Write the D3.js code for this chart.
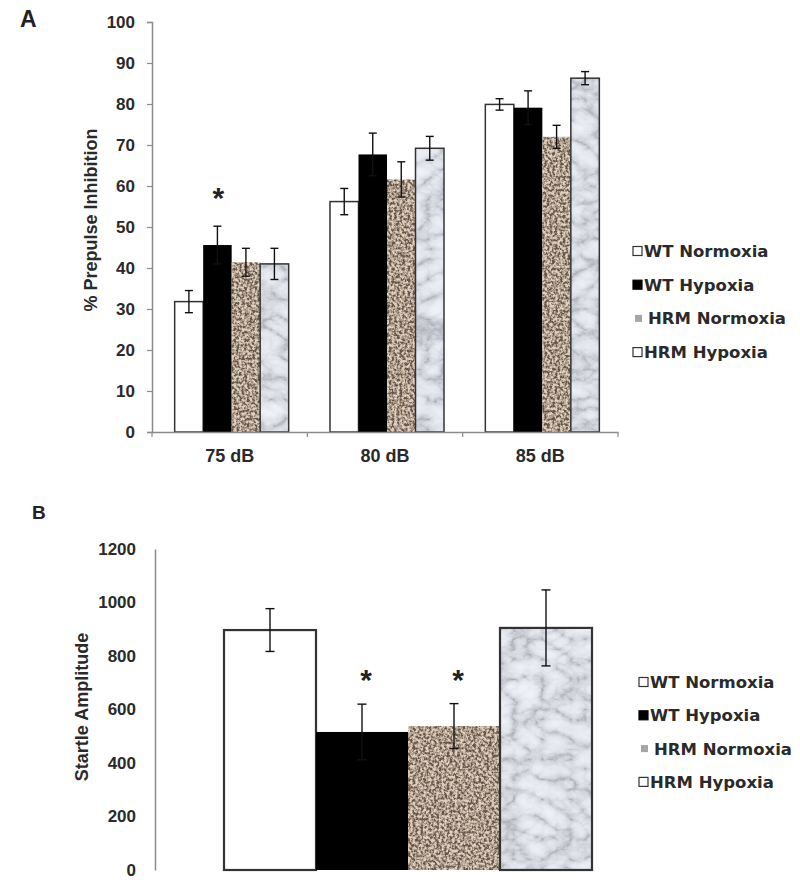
<!DOCTYPE html>
<html><head><meta charset="utf-8">
<script src="https://cdn.jsdelivr.net/npm/d3@7"></script>
<style>body{margin:0;background:#fff}</style>
</head><body>
<svg id="chart" width="800" height="896" xmlns="http://www.w3.org/2000/svg"></svg>
<script>
// ---------- data ----------
const categories = ["75 dB", "80 dB", "85 dB"];
const groups = ["WT Normoxia", "WT Hypoxia", "HRM Normoxia", "HRM Hypoxia"];

// Panel A: % Prepulse Inhibition (mean, SEM) per category
const ppiWTNormoxia = [31.8, 56.2, 79.9];
const ppiWTNormoxiaErr = [2.7, 3.2, 1.4];
const ppiWTHypoxia = [45.6, 67.7, 79.1];
const ppiWTHypoxiaErr = [4.6, 5.2, 4.1];
const ppiHRMNormoxia = [41.4, 61.6, 72.0];
const ppiHRMNormoxiaErr = [3.4, 4.3, 2.8];
const ppiHRMHypoxia = [41.0, 69.2, 86.3];
const ppiHRMHypoxiaErr = [3.8, 2.9, 1.6];
const ppiStarWTHypoxia = [true, false, false];
const ppiTicks = [0, 10, 20, 30, 40, 50, 60, 70, 80, 90, 100];

// Panel B: Startle Amplitude (mean, SEM) per group
const startleMeans = [897, 516, 538, 905];
const startleErr = [80, 104, 84, 142];
const startleStars = [false, true, true, false];
const startleTicks = [0, 200, 400, 600, 800, 1000, 1200];

// ---------- styles ----------
const tickFont = "'Liberation Sans', Arial, sans-serif";
const legendFont = "'DejaVu Sans', Verdana, sans-serif";
const textCol = "#2a2a2a";
const axisCol = "#8c8c8c";

const svg = d3.select("#chart");
const defs = svg.append("defs");

// granite texture
const fg = defs.append("filter").attr("id", "granite").attr("x", 0).attr("y", 0).attr("width", 1).attr("height", 1)
  .attr("color-interpolation-filters", "sRGB");
fg.append("feTurbulence").attr("type", "fractalNoise").attr("baseFrequency", 0.38).attr("numOctaves", 3).attr("seed", 3).attr("result", "n");
fg.append("feColorMatrix").attr("in", "n").attr("type", "matrix")
  .attr("values", "3 0 0 0 -1  3 0 0 0 -1  3 0 0 0 -1  0 0 0 0 1").attr("result", "g");
const ctg = fg.append("feComponentTransfer").attr("in", "g").attr("result", "c");
ctg.append("feFuncR").attr("type", "table").attr("tableValues", "0.40 0.60 0.76 0.88");
ctg.append("feFuncG").attr("type", "table").attr("tableValues", "0.34 0.53 0.69 0.82");
ctg.append("feFuncB").attr("type", "table").attr("tableValues", "0.29 0.47 0.62 0.76");
fg.append("feComposite").attr("in", "c").attr("in2", "SourceGraphic").attr("operator", "in");

// marble texture
const fm = defs.append("filter").attr("id", "marble").attr("x", 0).attr("y", 0).attr("width", 1).attr("height", 1)
  .attr("color-interpolation-filters", "sRGB");
fm.append("feTurbulence").attr("type", "turbulence").attr("baseFrequency", "0.035 0.05").attr("numOctaves", 4).attr("seed", 7).attr("result", "n");
fm.append("feColorMatrix").attr("in", "n").attr("type", "matrix")
  .attr("values", "1 0 0 0 0  1 0 0 0 0  1 0 0 0 0  0 0 0 0 1").attr("result", "g");
const ctm = fm.append("feComponentTransfer").attr("in", "g").attr("result", "c");
ctm.append("feFuncR").attr("type", "table").attr("tableValues", "0.66 0.82 0.89 0.92 0.94 0.95");
ctm.append("feFuncG").attr("type", "table").attr("tableValues", "0.67 0.83 0.90 0.93 0.95 0.96");
ctm.append("feFuncB").attr("type", "table").attr("tableValues", "0.71 0.86 0.93 0.96 0.97 0.98");
fm.append("feComposite").attr("in", "c").attr("in2", "SourceGraphic").attr("operator", "in");

const groupStyle = [
  { fill: "#ffffff", stroke: "#333", filter: null, outline: true },
  { fill: "#000000", stroke: "#000", filter: null, outline: false },
  { fill: "#a89888", stroke: "none", filter: "url(#granite)", outline: false },
  { fill: "#f0f0f4", stroke: "#333", filter: "url(#marble)", outline: true }
];

function drawBar(g, x, y, w, h, s, sw) {
  g.append("rect").attr("x", x).attr("y", y).attr("width", w).attr("height", h)
    .attr("fill", s.fill).attr("filter", s.filter);
  if (s.outline) {
    g.append("rect").attr("x", x).attr("y", y).attr("width", w).attr("height", h)
      .attr("fill", "none").attr("stroke", s.stroke).attr("stroke-width", sw);
  }
}
function drawErr(g, cx, yTop, yBot, cap) {
  g.append("line").attr("x1", cx).attr("x2", cx).attr("y1", yTop).attr("y2", yBot)
    .attr("stroke", "#111").attr("stroke-width", 1.4);
  [yTop, yBot].forEach(yy => g.append("line").attr("x1", cx - cap).attr("x2", cx + cap)
    .attr("y1", yy).attr("y2", yy).attr("stroke", "#111").attr("stroke-width", 1.4));
}

// ================= Panel A =================
const A = svg.append("g");
const yA = d3.scaleLinear().domain([0, 100]).range([432, 22]);
const xCat = d3.scaleBand().domain(categories).range([152, 618]).padding(0);
const xGrp = d3.scaleBand().domain(groups).range([0, 114]).padding(0);
const groupOffset = (xCat.bandwidth() - 114) / 2 + 2;

const ppiMeans = [ppiWTNormoxia, ppiWTHypoxia, ppiHRMNormoxia, ppiHRMHypoxia];
const ppiErrs = [ppiWTNormoxiaErr, ppiWTHypoxiaErr, ppiHRMNormoxiaErr, ppiHRMHypoxiaErr];

const barsA = A.append("g");
categories.forEach((c, ci) => {
  groups.forEach((gname, gi) => {
    const x = xCat(c) + groupOffset + xGrp(gname);
    const v = ppiMeans[gi][ci];
    drawBar(barsA, x, yA(v), xGrp.bandwidth(), yA(0) - yA(v), groupStyle[gi], 1.5);
  });
});
categories.forEach((c, ci) => {
  groups.forEach((gname, gi) => {
    const cx = xCat(c) + groupOffset + xGrp(gname) + xGrp.bandwidth() / 2;
    const v = ppiMeans[gi][ci], e = ppiErrs[gi][ci];
    drawErr(barsA, cx, yA(v + e), yA(v - e), 4);
    if (gi === 1 && ppiStarWTHypoxia[ci]) {
      barsA.append("text").attr("x", cx + 1).attr("y", yA(v + e) - 18).attr("text-anchor", "middle")
        .attr("font-family", tickFont).attr("font-weight", "bold").attr("font-size", 30).attr("fill", "#222").text("*");
    }
  });
});

// y axis A
const yAxisA = A.append("g").attr("transform", "translate(152,0)")
  .call(d3.axisLeft(yA).tickValues(ppiTicks).tickSize(5).tickPadding(12));
yAxisA.select(".domain").attr("stroke", axisCol).attr("stroke-width", 1.5);
yAxisA.selectAll(".tick line").attr("stroke", axisCol).attr("stroke-width", 1.2);
yAxisA.selectAll(".tick text").attr("font-family", tickFont).attr("font-weight", "bold")
  .attr("font-size", 17).attr("fill", textCol);

// x axis A: category boundaries with ticks, labels centered
const xAxisA = A.append("g").attr("transform", "translate(0,432)")
  .call(d3.axisBottom(xCat).tickSize(0).tickPadding(17));
xAxisA.select(".domain").attr("stroke", axisCol).attr("stroke-width", 1.5);
xAxisA.selectAll(".tick text").attr("font-family", tickFont).attr("font-weight", "bold")
  .attr("font-size", 18).attr("fill", textCol);
const bounds = categories.map(c => xCat(c)).concat([xCat.range()[1]]);
A.append("g").selectAll("line").data(bounds).join("line")
  .attr("x1", d => d).attr("x2", d => d).attr("y1", 432).attr("y2", 437)
  .attr("stroke", axisCol).attr("stroke-width", 1.2);

A.append("text").attr("transform", "translate(97,220) rotate(-90)").attr("text-anchor", "middle")
  .attr("font-family", tickFont).attr("font-weight", "bold").attr("font-size", 18).attr("fill", textCol)
  .text("% Prepulse Inhibition");
A.append("text").attr("x", 20).attr("y", 27).attr("font-family", tickFont).attr("font-weight", "bold")
  .attr("font-size", 23).attr("fill", "#222").text("A");

// ================= Panel B =================
const B = svg.append("g");
const yB = d3.scaleLinear().domain([0, 1200]).range([870, 549]);
const xB = d3.scaleBand().domain(groups).range([224, 592]).padding(0);

groups.forEach((gname, gi) => {
  const v = startleMeans[gi];
  drawBar(B, xB(gname), yB(v), xB.bandwidth(), yB(0) - yB(v), groupStyle[gi], 2.2);
});
groups.forEach((gname, gi) => {
  const cx = xB(gname) + xB.bandwidth() / 2;
  const v = startleMeans[gi], e = startleErr[gi];
  drawErr(B, cx, yB(v + e), yB(v - e), 4.5);
  if (startleStars[gi]) {
    B.append("text").attr("x", cx + 4).attr("y", yB(v + e) - 14).attr("text-anchor", "middle")
      .attr("font-family", tickFont).attr("font-weight", "bold").attr("font-size", 30).attr("fill", "#222").text("*");
  }
});

const yAxisB = B.append("g").attr("transform", "translate(155,0)")
  .call(d3.axisLeft(yB).tickValues(startleTicks).tickFormat(d3.format("d")).tickSize(0).tickPadding(19));
yAxisB.select(".domain").attr("stroke", axisCol).attr("stroke-width", 1.5);
yAxisB.selectAll(".tick text").attr("font-family", tickFont).attr("font-weight", "bold")
  .attr("font-size", 17).attr("fill", textCol);

B.append("text").attr("transform", "translate(88,707) rotate(-90)").attr("text-anchor", "middle")
  .attr("font-family", tickFont).attr("font-weight", "bold").attr("font-size", 18).attr("fill", textCol)
  .text("Startle Amplitude");
B.append("text").attr("x", 32).attr("y", 519).attr("font-family", tickFont).attr("font-weight", "bold")
  .attr("font-size", 19).attr("fill", "#222").text("B");

// ================= Legends =================
const legendSwatch = [
  { fill: "#fff", stroke: "#333" },
  { fill: "#000", stroke: "#000" },
  { fill: "#a6a6a6", stroke: "none", small: true },
  { fill: "#fff", stroke: "#333" }
];
function legend(x, yStart, dy) {
  const lg = svg.append("g");
  groups.forEach((gname, gi) => {
    const y = yStart + gi * dy;
    const s = legendSwatch[gi];
    const sz = s.small ? 7 : 9;
    lg.append("rect").attr("x", x + (s.small ? 2 : 0)).attr("y", y - sz / 2).attr("width", sz).attr("height", sz)
      .attr("fill", s.fill).attr("stroke", s.stroke).attr("stroke-width", 1.2);
    lg.append("text").attr("x", x + (s.small ? 15 : 11)).attr("y", y).attr("dy", "0.36em")
      .attr("font-family", legendFont).attr("font-weight", "bold").attr("font-size", 16.5)
      .attr("fill", "#2a2a2a").text(gname);
  });
}
legend(633, 251, 33.7);
legend(639, 682, 33.3);
</script>
</body></html>
